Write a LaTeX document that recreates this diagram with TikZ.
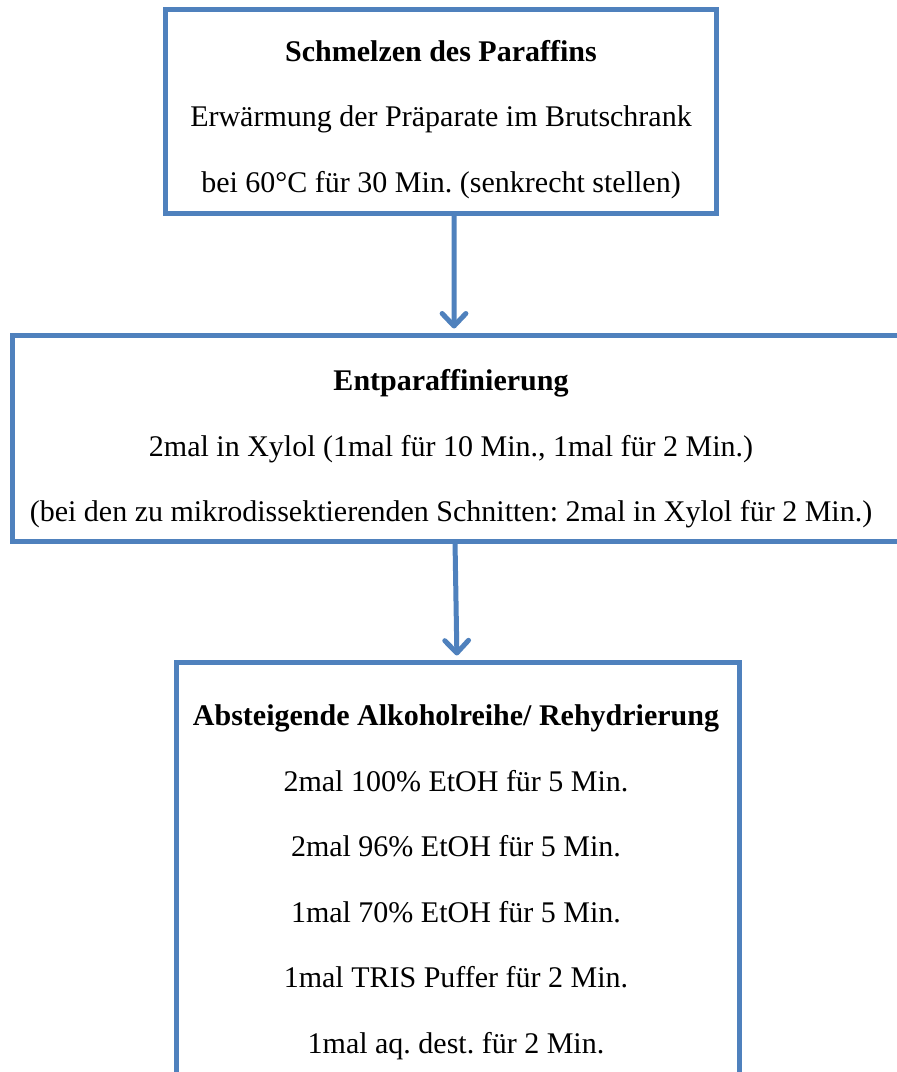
\documentclass[tikz,border=0pt]{standalone}
\usepackage{fontspec}
\setmainfont{Liberation Serif}
\usepackage{tikz}
\usetikzlibrary{arrows.meta}
\definecolor{boxblue}{HTML}{4F81BD}
\frenchspacing

\begin{document}
\begin{tikzpicture}[x=0.4pt, y=-0.4pt, outer sep=0pt]
          \newcommand{\boxline}{2pt}
          \newcommand{\flowline}{2pt}
          \newcommand{\flowgap}{2.6pt}

          \tikzstyle{stage}=[
            draw=boxblue,
            rectangle,
            line width=\boxline,
            inner sep=0pt
          ]
          \tikzstyle{stagetext}=[
            align=center,
            inner sep=0pt,
            font=\fontsize{12}{26.2}\selectfont
          ]
          \tikzstyle{flow} = [draw=boxblue, line width=\flowline, -{Straight Barb[length=5pt,width=9.5pt,round]}, shorten >=\flowgap]

          \useasboundingbox (0,0) rectangle (897,1072);
          \clip (0,0) rectangle (897,1072);

          % boxes
          \node[stage, minimum width=220pt, minimum height=81.2pt] (melt) at (441,111.5) {};
          \node[stage, minimum width=356.8pt, minimum height=82.4pt] (dewax) at (459,438) {};
          \node[stage, minimum width=224.8pt, minimum height=174.4pt] (rinse) at (458,880) {};

          % texts
          \node[stagetext] (melttext) at (441,119.5) {\textbf{Schmelzen des Paraffins}\\
            Erwärmung der Präparate im Brutschrank\\
            bei 60°C für 30 Min. (senkrecht stellen)};
          \node[stagetext] (dewaxtext) at (451,449) {\textbf{Entparaffinierung}\\
            2mal in Xylol (1mal für 10 Min., 1mal für 2 Min.)\\
            (bei den zu mikrodissektierenden Schnitten: 2mal in Xylol für 2 Min.)};
          \node[stagetext] (rinsetext) at (456,882.5) {\textbf{Absteigende Alkoholreihe/ Rehydrierung}\\
            2mal 100\% EtOH für 5 Min.\\
            2mal 96\% EtOH für 5 Min.\\
            1mal 70\% EtOH für 5 Min.\\
            1mal TRIS Puffer für 2 Min.\\
            1mal aq. dest. für 2 Min.};

          \draw[flow] ([xshift=5.2pt] melt.south) -- ([xshift=-2pt] dewax.north);
          \draw[flow] ([xshift=-1.6pt] dewax.south) -- ([xshift=-0.4pt] rinse.north);

\end{tikzpicture}
\end{document}
